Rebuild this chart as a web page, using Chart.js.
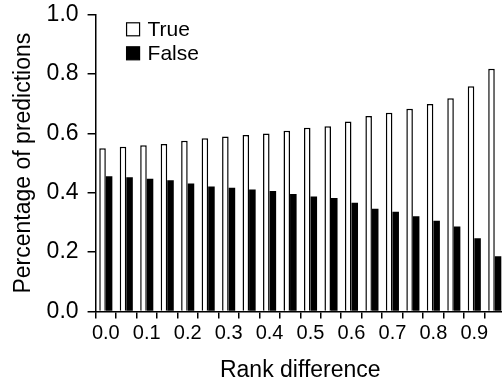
<!DOCTYPE html>
<html>
<head>
<meta charset="utf-8">
<script src="https://cdn.jsdelivr.net/npm/chart.js@4.4.0/dist/chart.umd.min.js"></script>
<style>
  html, body { margin: 0; padding: 0; background: #fff; overflow: hidden; }
  #rank { display: block; margin-top: -8px; }
</style>
</head>
<body>
<canvas id="rank" width="512" height="395"></canvas>
<script>
// rank difference bins (labels shown every other bin)
var categories = ['0.0', '0.05', '0.1', '0.15', '0.2', '0.25', '0.3', '0.35', '0.4', '0.45',
                  '0.5', '0.55', '0.6', '0.65', '0.7', '0.75', '0.8', '0.85', '0.9', '0.95'];
var trueVals = [0.550, 0.555, 0.560, 0.564, 0.575, 0.584, 0.590, 0.595, 0.600, 0.609,
                0.619, 0.624, 0.640, 0.659, 0.670, 0.683, 0.699, 0.719, 0.759, 0.818];
var falseVals = [0.456, 0.452, 0.447, 0.442, 0.431, 0.421, 0.417, 0.411, 0.406, 0.396,
                 0.387, 0.382, 0.366, 0.346, 0.336, 0.321, 0.306, 0.286, 0.247, 0.186];
var yLabels = ['0.0', '0.2', '0.4', '0.6', '0.8', '1.0'];

// legend drawn inside the plot, top left, stacked
var boxLegend = {
    id: 'boxLegend',
    afterDraw: function (chart) {
        var c = chart.ctx;
        var a = chart.chartArea;
        c.save();
        c.font = '21px "Liberation Sans", Arial, sans-serif';
        c.textBaseline = 'middle';
        chart.data.datasets.forEach(function (ds, i) {
            var x = a.left + 31, y = a.top + 8 + i * 24;
            c.fillStyle = ds.backgroundColor;
            c.fillRect(x, y, 13, 13);
            c.strokeStyle = '#000';
            c.lineWidth = 1.2;
            c.strokeRect(x, y, 13, 13);
            c.fillStyle = '#000';
            c.fillText(ds.label, x + 21, y + 7);
        });
        c.restore();
    }
};

var ctx = document.getElementById('rank').getContext('2d'); // get the canvas element
var myChart = new Chart(ctx, {
    type: 'bar',
    data: {
        labels: categories,
        datasets: [{
            label: 'True',
            data: trueVals,
            backgroundColor: '#ffffff',
            borderColor: '#000000',
            borderWidth: 1.5
        }, {
            label: 'False',
            data: falseVals,
            backgroundColor: '#000000',
            borderColor: '#000000',
            borderWidth: 0
        }]
    },
    options: {
        responsive: false,
        animation: false,
        layout: { padding: { left: 10, top: 0, right: 7, bottom: 3 } },
        datasets: { bar: { barPercentage: 1.0, categoryPercentage: 0.64 } },
        plugins: {
            legend: { display: false },
            tooltip: { enabled: false }
        },
        scales: {
            x: {
                grid: { offset: true, drawOnChartArea: false, drawTicks: true, tickLength: 7, color: '#000', lineWidth: 1.5 },
                border: { display: true, color: '#000', width: 1.5 },
                ticks: {
                    color: '#000',
                    autoSkip: false,
                    maxRotation: 0,
                    padding: 3,
                    font: { family: '"Liberation Sans", Arial, sans-serif', size: 20 },
                    callback: function (v, i) { return i % 2 === 0 ? categories[i] : ''; }
                },
                title: {
                    display: true,
                    text: 'Rank difference',
                    color: '#000',
                    padding: { top: 8, bottom: 0 },
                    font: { family: '"Liberation Sans", Arial, sans-serif', size: 23 }
                }
            },
            y: {
                min: 0,
                max: 1,
                grid: { drawOnChartArea: false, drawTicks: true, tickLength: 8, color: '#000', lineWidth: 1.5 },
                border: { display: true, color: '#000', width: 1.5 },
                ticks: {
                    stepSize: 0.1,
                    color: '#000',
                    padding: 9,
                    font: { family: '"Liberation Sans", Arial, sans-serif', size: 23 },
                    callback: function (v) {
                        var k = Math.round(v * 10);
                        return k % 2 === 0 ? yLabels[k / 2] : '';
                    }
                },
                title: {
                    display: true,
                    text: 'Percentage of predictions',
                    color: '#000',
                    padding: { top: 0, bottom: 0 },
                    font: { family: '"Liberation Sans", Arial, sans-serif', size: 23 }
                }
            }
        }
    },
    plugins: [boxLegend]
});
</script>
</body>
</html>
